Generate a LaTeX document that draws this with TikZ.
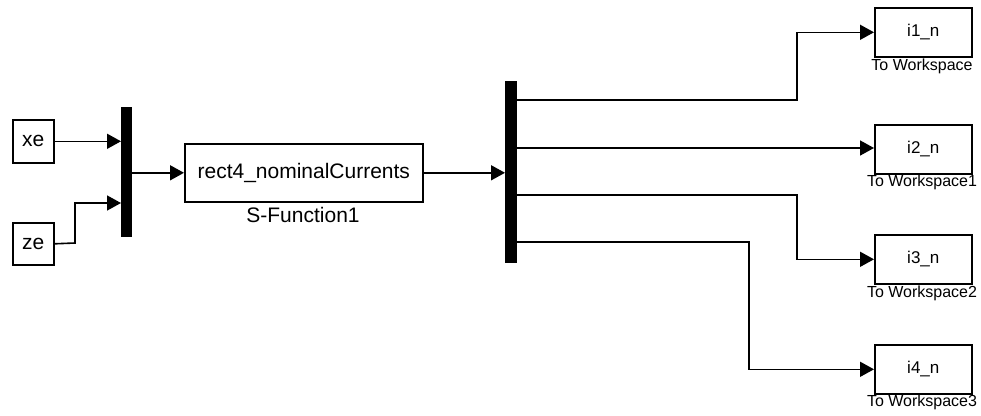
\documentclass[tikz,border=0pt]{standalone}
\usepackage{fontspec}
\setmainfont{Liberation Sans}
\usetikzlibrary{arrows.meta}
\begin{document}
\begin{tikzpicture}[x=1pt,y=-1pt,
  blk/.style={draw=black,line width=1.6pt,fill=white,inner sep=0pt,anchor=north west},
  bar/.style={fill=black,draw=none,inner sep=0pt,anchor=north west},
  sig/.style={line width=1.6pt,-{Triangle[length=14pt,width=15pt]}},
  lbl/.style={font=\fontsize{16}{17}\selectfont,inner sep=0pt},
  btxt/.style={font=\fontsize{21}{22}\selectfont,inner sep=0pt},
  otxt/.style={font=\fontsize{17}{18}\selectfont,inner sep=0pt}]
\useasboundingbox (0,0) rectangle (981,415);

% sources
\node[blk,minimum width=41pt,minimum height=43pt] (xe) at (12,119) {};
\node[btxt] at (xe.center) {xe};
\node[blk,minimum width=41pt,minimum height=42pt] (ze) at (12,222) {};
\node[btxt] at (ze.center) {ze};

% input mux
\node[bar,minimum width=11pt,minimum height=130pt] (mux1) at (121,107) {};
\coordinate (m1b) at (121,203);

% S-function
\node[blk,minimum width=238pt,minimum height=58pt] (sfun) at (184,143) {};
\node[btxt] at (sfun.center) {rect4\_nominalCurrents};
\node[btxt] at (303,215) {S-Function1};

% output mux
\node[bar,minimum width=12pt,minimum height=182pt] (mux2) at (505,81) {};
\coordinate (o1) at (517,100);
\coordinate (o2) at (517,148);
\coordinate (o3) at (517,195);
\coordinate (o4) at (517,242);

% workspace sinks
\node[blk,minimum width=97pt,minimum height=49pt] (w1) at (874,7) {};
\node[otxt] at (w1.center) {i1\_n};
\node[lbl] at (922,66) {To Workspace};
\node[blk,minimum width=97pt,minimum height=49pt] (w2) at (874,124) {};
\node[otxt] at (w2.center) {i2\_n};
\node[lbl] at (922,182) {To Workspace1};
\node[blk,minimum width=97pt,minimum height=49pt] (w3) at (874,234) {};
\node[otxt] at (w3.center) {i3\_n};
\node[lbl] at (922,293) {To Workspace2};
\node[blk,minimum width=97pt,minimum height=49pt] (w4) at (874,344) {};
\node[otxt] at (w4.center) {i4\_n};
\node[lbl] at (922,402) {To Workspace3};

% signals
\draw[sig] (xe.east) -- (xe.east -| mux1.west);
\draw[sig] (ze.east) -- (75,243) |- (m1b);
\draw[sig] (mux1.east |- sfun.west) -- (sfun.west);
\draw[sig] (sfun.east) -- (sfun.east -| mux2.west);
\draw[sig] (o1) -- (797,100) |- (w1.west);
\draw[sig] (o2) -- (w2.west |- o2);
\draw[sig] (o3) -- (797,195) |- (w3.west);
\draw[sig] (o4) -- (749,242) |- (w4.west);
\end{tikzpicture}
\end{document}
